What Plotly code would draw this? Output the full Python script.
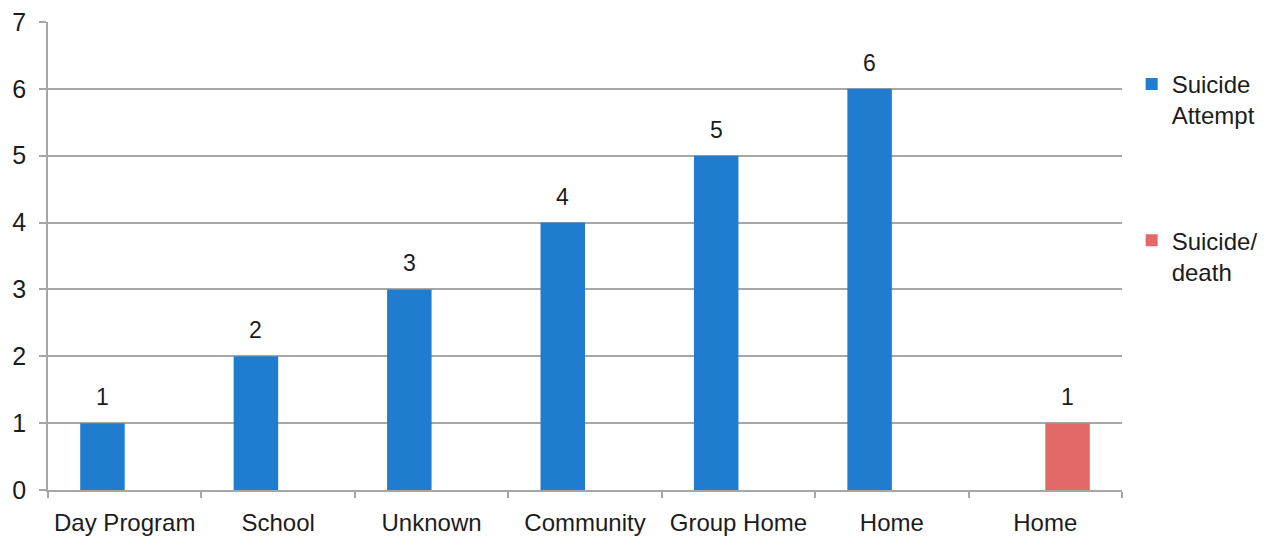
import plotly.graph_objects as go

# Where the incidents happened (the last "Home" slot holds the death)
locations = ["Day Program", "School", "Unknown", "Community", "Group Home", "Home", "Home"]
attempts = [1, 2, 3, 4, 5, 6, None]
deaths = [None, None, None, None, None, None, 1]
y_ticks = [0, 1, 2, 3, 4, 5, 6, 7]

BLUE = "#1f7ccf"
RED = "#e36868"
TEXT = "#1c1c1c"
GRID = "#a6a6a6"
FONT = "Liberation Sans, Arial, sans-serif"

slots = list(range(len(locations)))
BAR_HALF_OFFSET = 0.145  # centre of each bar relative to its slot, in slot units

fig = go.Figure()
fig.add_trace(go.Bar(
    x=slots, y=attempts, name="Suicide<br>Attempt",
    marker=dict(color=BLUE, line=dict(width=0)), legendgroup="a",
))
fig.add_trace(go.Bar(
    x=slots, y=deaths, name="Suicide/<br>death",
    marker=dict(color=RED, line=dict(width=0)), legendgroup="b",
))

# value labels above each bar, placed from the same series values
for values, side in ((attempts, -1), (deaths, 1)):
    for x, v in zip(slots, values):
        if v is None:
            continue
        fig.add_annotation(
            x=x + side * BAR_HALF_OFFSET, y=v, text=str(v), showarrow=False,
            yanchor="bottom", yshift=11,
            font=dict(size=23, color=TEXT, family=FONT),
        )

fig.update_layout(
    width=1266, height=540,
    margin=dict(l=48, r=144, t=22, b=50, autoexpand=False),
    paper_bgcolor="white", plot_bgcolor="white",
    barmode="group", bargap=0.42, bargroupgap=0,
    font=dict(family=FONT, color=TEXT, size=22),
    showlegend=True,
    legend=dict(
        x=1.009, xanchor="left", y=0.915, yanchor="top",
        yref="paper", valign="top",
        font=dict(size=24, color=TEXT, family=FONT),
        tracegroupgap=91, traceorder="grouped",
        bgcolor="rgba(0,0,0,0)", borderwidth=0,
    ),
    xaxis=dict(
        range=[-0.5, len(locations) - 0.5],
        tickmode="array", tickvals=slots, ticktext=locations,
        ticks="", showgrid=False, zeroline=False,
        showline=True, linecolor=GRID, linewidth=1.5,
        ticklabelstandoff=10, automargin=False,
        tickfont=dict(size=24, color=TEXT, family=FONT),
        minor=dict(tickmode="linear", tick0=0.5, dtick=1, ticks="outside",
                   ticklen=6, tickcolor=GRID, tickwidth=1.5, showgrid=False),
    ),
    yaxis=dict(
        range=[0, 7], tickmode="array", tickvals=y_ticks,
        ticks="outside", ticklen=7, tickcolor=GRID, tickwidth=1.5,
        showgrid=True, gridcolor=GRID, gridwidth=1.5,
        zeroline=False, showline=True, linecolor=GRID, linewidth=1.5,
        ticklabelstandoff=8, automargin=False,
        tickfont=dict(size=25, color=TEXT, family=FONT),
    ),
)

fig.write_html("out.html")
